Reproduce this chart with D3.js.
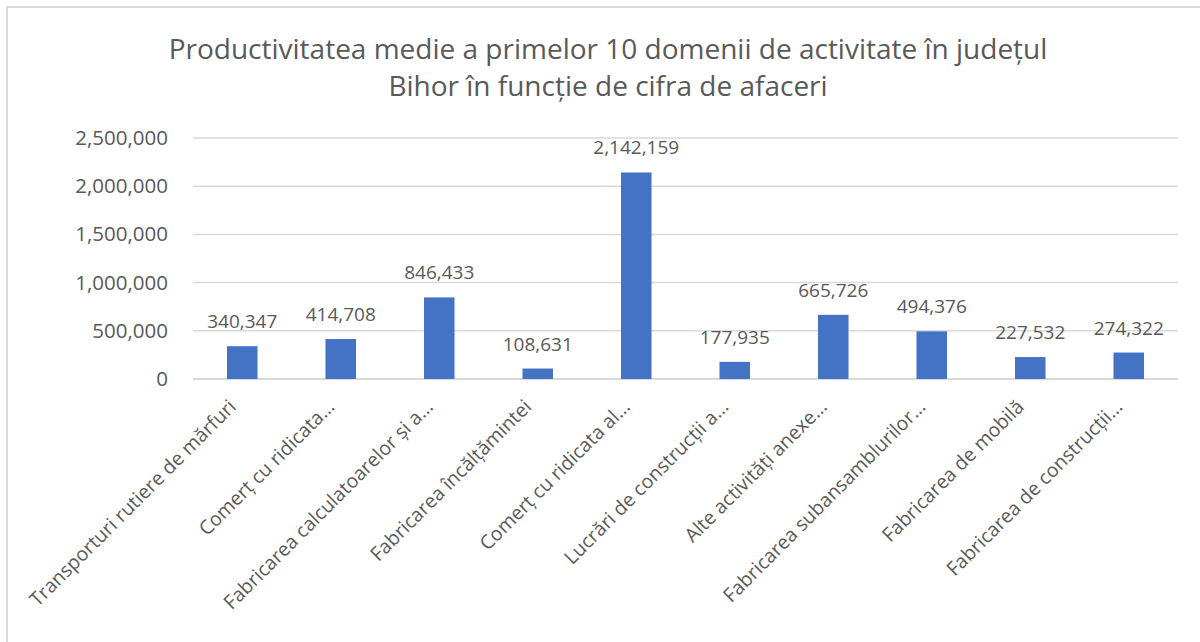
<!DOCTYPE html>
<html>
<head>
<meta charset="utf-8">
<script src="https://d3js.org/d3.v7.min.js"></script>
<style>
  body { margin: 0; background: #fff; }
  text { font-family: "Open Sans", "Noto Sans", sans-serif; fill: #595959; }
</style>
</head>
<body>
<div id="chart"></div>
<script>
// data
const categories = [
  "Transporturi rutiere de mărfuri",
  "Comerț cu ridicata…",
  "Fabricarea calculatoarelor și a…",
  "Fabricarea încălțămintei",
  "Comerț cu ridicata al…",
  "Lucrări de construcții a…",
  "Alte activități anexe…",
  "Fabricarea subansamblurilor…",
  "Fabricarea de mobilă",
  "Fabricarea de construcții…"
];
const values = [340347, 414708, 846433, 108631, 2142159, 177935, 665726, 494376, 227532, 274322];
const yTicks = [0, 500000, 1000000, 1500000, 2000000, 2500000];
const titleLines = [
  "Productivitatea medie a primelor 10 domenii de activitate în județul",
  "Bihor în funcție de cifra de afaceri"
];

const width = 1200;
const height = 642;
const margin = {top: 138, right: 22, bottom: 263, left: 193};

const svg = d3.select("#chart")
  .append("svg")
  .attr("width", width)
  .attr("height", height);

// chart frame (only top/left visible in the crop)
svg.append("rect")
  .attr("x", 7).attr("y", 7)
  .attr("width", 1200).attr("height", 700)
  .attr("fill", "none")
  .attr("stroke", "#d9d9d9")
  .attr("stroke-width", 2);

// title
svg.append("g")
  .selectAll("text")
  .data(titleLines)
  .enter().append("text")
    .attr("x", 608)
    .attr("y", (d, i) => 59 + i * 37)
    .attr("text-anchor", "middle")
    .attr("font-size", 28)
    .text(d => d);

const x = d3.scaleBand()
  .domain(categories)
  .range([margin.left, width - margin.right])
  .paddingInner(0.69)
  .paddingOuter(0.345);

const y = d3.scaleLinear()
  .domain([0, 2500000])
  .range([height - margin.bottom, margin.top]);

// gridlines
svg.append("g")
  .selectAll("line")
  .data(yTicks)
  .enter().append("line")
    .attr("x1", margin.left)
    .attr("x2", width - margin.right)
    .attr("y1", d => y(d))
    .attr("y2", d => y(d))
    .attr("stroke", "#d9d9d9")
    .attr("stroke-width", d => d === 0 ? 2 : 1.5);

// y axis labels
const yAxis = svg.append("g")
  .attr("transform", `translate(${margin.left - 22},0)`)
  .call(d3.axisLeft(y).tickValues(yTicks).tickSize(0).tickFormat(d3.format(",")));
yAxis.select(".domain").remove();
yAxis.selectAll("text")
  .attr("font-size", 20.5)
  .attr("font-family", null)
  .attr("fill", "#595959");

// bars
svg.append("g")
  .selectAll("rect")
  .data(values)
  .enter().append("rect")
    .attr("x", (d, i) => x(categories[i]))
    .attr("y", d => y(d))
    .attr("width", x.bandwidth())
    .attr("height", d => y(0) - y(d))
    .attr("fill", "#4472c4");

// data labels
svg.append("g")
  .selectAll("text")
  .data(values)
  .enter().append("text")
    .attr("x", (d, i) => x(categories[i]) + x.bandwidth() / 2)
    .attr("y", d => y(d) - 18)
    .attr("text-anchor", "middle")
    .attr("font-size", 19)
    .text(d => d3.format(",")(d));

// category labels, rotated
svg.append("g")
  .selectAll("text")
  .data(categories)
  .enter().append("text")
    .attr("transform", d => `translate(${x(d) + x.bandwidth() / 2 - 5},${y(0) + 29}) rotate(-45)`)
    .attr("text-anchor", "end")
    .attr("font-size", 19.5)
    .text(d => d);
</script>
</body>
</html>
